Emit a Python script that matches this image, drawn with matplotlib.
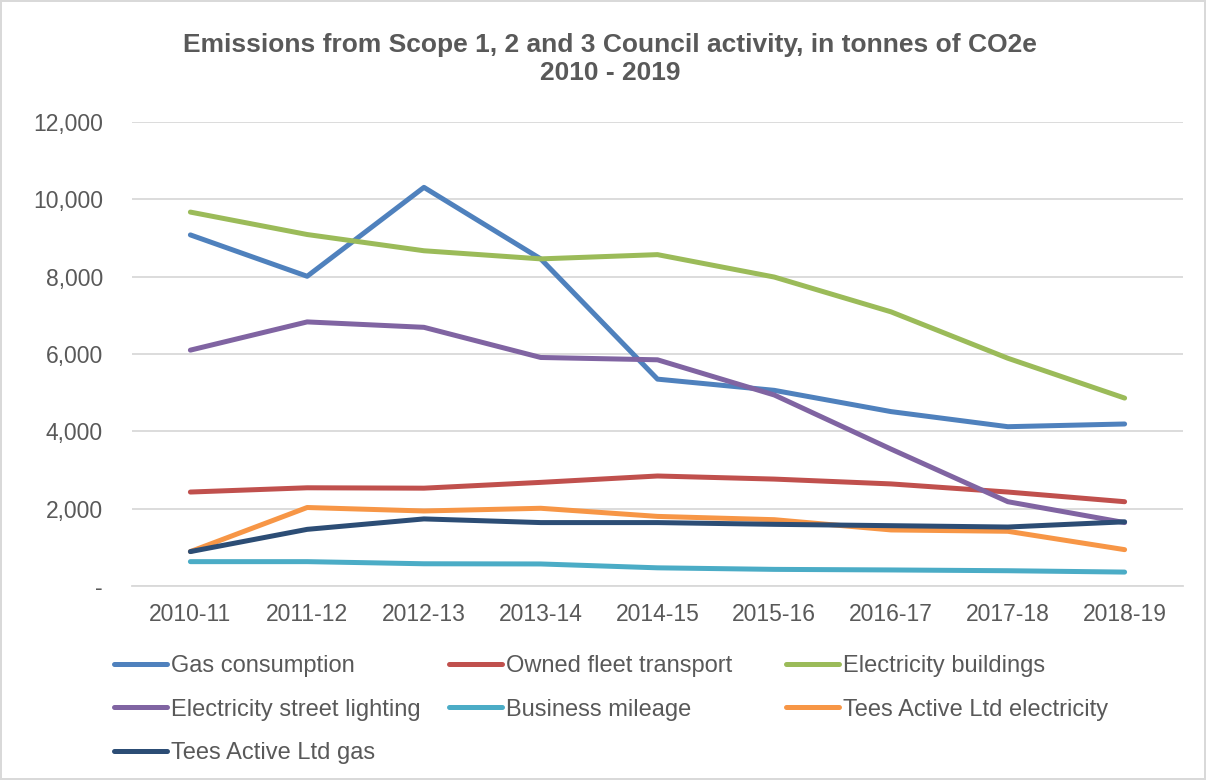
import matplotlib
matplotlib.use("Agg")
import matplotlib.pyplot as plt
from matplotlib.ticker import FuncFormatter

plt.rcParams['font.family'] = ['Liberation Sans', 'DejaVu Sans']

years = ['2010-11', '2011-12', '2012-13', '2013-14', '2014-15',
         '2015-16', '2016-17', '2017-18', '2018-19']

gas = [9080, 8010, 10310, 8460, 5350, 5060, 4510, 4120, 4190]
fleet = [2430, 2540, 2530, 2680, 2845, 2765, 2640, 2430, 2180]
elec_buildings = [9670, 9090, 8670, 8460, 8570, 7990, 7090, 5890, 4860]
street_lighting = [6100, 6830, 6690, 5910, 5850, 4940, 3540, 2180, 1640]
business = [630, 630, 575, 570, 470, 430, 415, 395, 360]
tees_elec = [890, 2030, 1940, 2010, 1800, 1715, 1450, 1415, 940]
tees_gas = [890, 1465, 1735, 1640, 1640, 1595, 1560, 1525, 1660]

series = [
    ('Gas consumption', gas, '#4F81BD'),
    ('Owned fleet transport', fleet, '#C0504D'),
    ('Electricity buildings', elec_buildings, '#9BBB59'),
    ('Electricity street lighting', street_lighting, '#8064A2'),
    ('Business mileage', business, '#4BACC6'),
    ('Tees Active Ltd electricity', tees_elec, '#F79646'),
    ('Tees Active Ltd gas', tees_gas, '#2C4D75'),
]

grey = '#595959'

fig = plt.figure(figsize=(12.06, 7.8), dpi=100)
fig.patch.set_edgecolor('#d9d9d9')
fig.patch.set_linewidth(1.5)
ax = fig.add_axes([132 / 1206, 1 - 586 / 780, (1183 - 132) / 1206, (586 - 122) / 780])

handles = []
x = list(range(len(years)))
for name, vals, col in series:
    ln, = ax.plot(x, vals, color=col, lw=3.6, solid_capstyle='round',
                  solid_joinstyle='round', label=name)
    handles.append(ln)

ax.set_xlim(-0.5, len(years) - 0.5)
ax.set_ylim(0, 12000)
ax.set_yticks(range(0, 12001, 2000))
ax.yaxis.set_major_formatter(FuncFormatter(lambda v, p: '-' if v == 0 else f'{int(v):,}'))
ax.set_xticks(x)
ax.set_xticklabels(years)
ax.grid(axis='y', color='#d9d9d9', lw=1.3)
ax.set_axisbelow(True)
for s in ['top', 'right', 'left']:
    ax.spines[s].set_visible(False)
ax.spines['bottom'].set_color('#d9d9d9')
ax.spines['bottom'].set_linewidth(1.3)
ax.tick_params(length=0, labelsize=16.5, colors=grey, pad=12)
ax.tick_params(axis='y', pad=21)

fig.text(0.506, 1 - 45 / 780, 'Emissions from Scope 1, 2 and 3 Council activity, in tonnes of CO2e',
         ha='center', va='center', fontsize=19, fontweight='bold', color=grey)
fig.text(0.506, 1 - 73 / 780, '2010 - 2019',
         ha='center', va='center', fontsize=19, fontweight='bold', color=grey)

# legend laid out row by row, one legend per column
col_x = [114, 449, 786]
for c in range(3):
    idx = list(range(c, len(series), 3))
    leg = fig.legend([handles[i] for i in idx], [series[i][0] for i in idx],
                     loc='upper left', bbox_to_anchor=(col_x[c] / 1206, 1 - 655 / 780),
                     frameon=False, fontsize=17, handlelength=2.25, handletextpad=0.15,
                     labelspacing=0.92, borderpad=0, borderaxespad=0, labelcolor=grey)

fig.savefig('out.png', dpi=100)
